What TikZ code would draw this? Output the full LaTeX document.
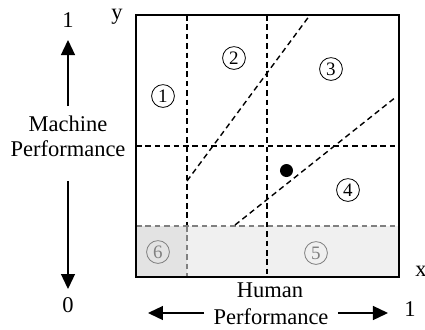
\documentclass[tikz,border=0pt]{standalone}
\usepackage{fontspec}
\setmainfont{Liberation Serif}
\usetikzlibrary{arrows.meta}

\begin{document}
\begin{tikzpicture}[x=0.5pt,y=-0.5pt,
  grid line/.style={dash pattern=on 2.8pt off 1.9pt, line width=0.7pt},
  band line/.style={grid line, draw=gray},
  perf arrow/.style={-{Triangle[length=7.5pt,width=7pt]}, line width=0.65pt},
  region/.style={circle, draw, line width=0.4pt, minimum size=11.4pt, inner sep=0pt,
    font=\fontsize{9.5}{9.5}\selectfont},
  lbl/.style={font=\fontsize{11.25}{12.5}\selectfont, inner sep=0pt}]
  \useasboundingbox (0,0) rectangle (425,329);

  %%% band at the bottom
  \fill[gray!12] (187,226) rectangle (399,277);
  \fill[gray!22] (136,226) rectangle (187,277);

  %%% dashed grid and diagonals
  \draw[grid line] (187,15) -- (187,226);
  \draw[band line] (187,226) -- (187,277);
  \draw[grid line] (267,15) -- (267,277);
  \draw[grid line] (136,146) -- (399,146);
  \draw[band line] (136,226) -- (399,226);
  \draw[grid line] (187,181) -- (310,15);
  \draw[grid line] (235,225) -- (396,97);
  \fill (286.5,170.5) circle (6.5);

  %%% frame
  \draw[line width=0.7pt] (136,15) rectangle (399,277);

  %%% regions
  \node[region] (r1) at (163,96) {1};
  \node[region] (r2) at (234,58) {2};
  \node[region] (r3) at (331,69) {3};
  \node[region] (r4) at (348,190) {4};
  \node[region, draw=gray, text=gray] (r5) at (316,253) {5};
  \node[region, draw=gray, text=gray] (r6) at (158,252) {6};

  %%% axis labels
  \node[lbl] (xlab) at (421,271) {x};
  \node[lbl] (ylab) at (117,17) {y};
  \node[lbl] (xone) at (410,309) {1};
  \node[lbl] (yone) at (68,20) {1};
  \node[lbl] (yzero) at (68,305) {0};

  \node[lbl] (human) at (270,290.5) {Human};
  \node[lbl, inner xsep=4.5pt] (hperf) at (271,317) {Performance};
  \coordinate (xlo) at (148,313);
  \coordinate (xhi) at (388,313);
  \draw[perf arrow] (hperf.west |- xlo) -- (xlo);
  \draw[perf arrow] (hperf.east |- xhi) -- (xhi);

  \node[lbl, align=center] (mperf) at (68,136) {Machine\\Performance};
  \coordinate (yhi) at (68,40);
  \coordinate (ylo) at (68,289);
  \draw[perf arrow] ([yshift=4.5pt]mperf.north) -- (yhi);
  \draw[perf arrow] ([yshift=-12pt]mperf.south) -- (ylo);
\end{tikzpicture}
\end{document}
